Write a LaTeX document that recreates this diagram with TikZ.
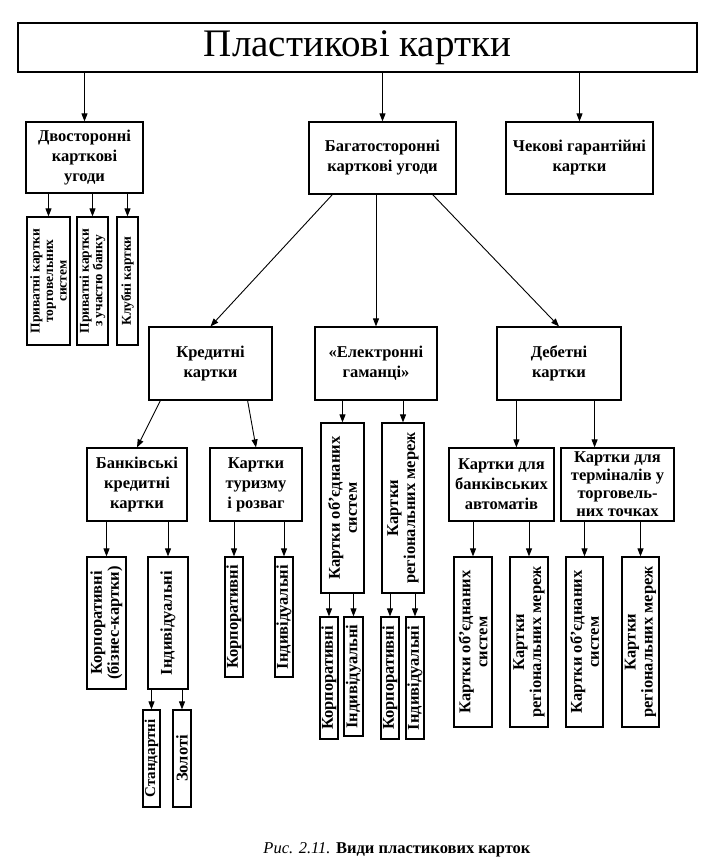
\documentclass[tikz,border=0pt]{standalone}
\usepackage{fontspec}
\setmainfont{Liberation Serif}
\usetikzlibrary{arrows.meta}
\newcommand\pkbig{\fontsize{39}{42}\selectfont}
\newcommand\pkmid{\fontsize{16.5}{20}\selectfont\bfseries}
\newcommand\pkvert{\fontsize{16.5}{17}\selectfont\bfseries}
\newcommand\pksmall{\fontsize{13.5}{13.5}\selectfont\bfseries}
\begin{document}
\begin{tikzpicture}[x=1pt,y=-1pt,
    box/.style={draw, line width=1.2pt, inner sep=0pt, align=center, font=\pkmid},
    vbox/.style={box, rotate=90, font=\pkvert},
    arr/.style={line width=0.9pt, -{Triangle[length=8pt,width=6pt]}}]
  \useasboundingbox (0,0) rectangle (721,861);
  \node[box, font=\pkbig, minimum width=679pt, minimum height=49pt] (pk0) at (357.5,47.5){Пластикові картки};
  \node[box, minimum width=117pt, minimum height=71pt] (pk1) at (84.5,157.5){Двосторонні\\карткові\\угоди};
  \node[box, minimum width=147pt, minimum height=72pt] (pk2) at (382.5,158){Багатосторонні\\карткові угоди};
  \node[box, minimum width=147pt, minimum height=72pt] (pk3) at (579.5,158){Чекові гарантійні\\картки};
  \draw[arr](pk0.south -| pk1) -- (pk1.north);
  \draw[arr](pk0.south -| pk2) -- (pk2.north);
  \draw[arr](pk0.south -| pk3) -- (pk3.north);
  \node[vbox, font=\pksmall, minimum width=128pt, minimum height=43pt] (pk4) at (48.5,281){Приватні картки\\торговельних\\систем};
  \node[vbox, font=\pksmall, minimum width=128pt, minimum height=31pt] (pk5) at (92.5,281){Приватні картки\\з участю банку};
  \node[vbox, font=\pksmall, minimum width=128pt, minimum height=21pt] (pk6) at (127.5,281){Клубні картки};
  \draw[arr](pk1.south -| pk4) -- (pk4.east);
  \draw[arr](pk1.south -| pk5) -- (pk5.east);
  \draw[arr](pk1.south -| pk6) -- (pk6.east);
  \node[box, minimum width=123pt, minimum height=73pt] (pk7) at (210.5,363.5){Кредитні\\картки};
  \node[box, minimum width=122pt, minimum height=73pt] (pk8) at (376,363.5){«Електронні\\гаманці»};
  \node[box, minimum width=124pt, minimum height=73pt] (pk9) at (559,363.5){Дебетні\\картки};
  \draw[arr]([xshift=24pt]pk2.south west) -- (pk7.north);
  \draw[arr](pk2.south -| pk8) -- (pk8.north);
  \draw[arr]([xshift=-24pt]pk2.south east) -- (pk9.north);
  % credit cards
  \node[box, minimum width=100pt, minimum height=73pt] (pk10) at (137,484.5){Банківські\\кредитні\\картки};
  \node[box, minimum width=92pt, minimum height=73pt] (pk11) at (256,484.5){Картки\\туризму\\і розваг};
  \draw[arr]([xshift=12pt]pk7.south west) -- (pk10.north);
  \draw[arr]([xshift=-25pt]pk7.south east) -- (pk11.north);
  \node[vbox, minimum width=132pt, minimum height=39pt] (pk24) at (106.5,623){Корпоративні\\(бізнес-картки)};
  \node[vbox, minimum width=132pt, minimum height=40pt] (pk25) at (168,623){Індивідуальні};
  \draw[arr](pk10.south -| pk24) -- (pk24.east);
  \draw[arr](pk10.south -| pk25) -- (pk25.east);
  \node[vbox, font=\fontsize{15}{16}\selectfont\bfseries, minimum width=97pt, minimum height=17pt] (pk26) at (151.5,758.5){Стандартні};
  \node[vbox, minimum width=97pt, minimum height=18pt] (pk27) at (182,758.5){Золоті};
  \draw[arr](pk25.west -| pk26) -- (pk26.east);
  \draw[arr](pk25.west -| pk27) -- (pk27.east);
  \node[vbox, minimum width=120pt, minimum height=18pt] (pk28) at (234,617){Корпоративні};
  \node[vbox, minimum width=120pt, minimum height=18pt] (pk29) at (284,617){Індивідуальні};
  \draw[arr](pk11.south -| pk28) -- (pk28.east);
  \draw[arr](pk11.south -| pk29) -- (pk29.east);
  % e-wallets
  \node[vbox, minimum width=170pt, minimum height=43pt] (pk12) at (342.5,508){Картки об'єднаних\\систем};
  \node[vbox, minimum width=170pt, minimum height=42pt] (pk13) at (403,508){Картки\\регіональних мереж};
  \draw[arr](pk8.south -| pk12) -- (pk12.east);
  \draw[arr](pk8.south -| pk13) -- (pk13.east);
  \node[vbox, minimum width=122pt, minimum height=18pt] (pk14) at (329,678){Корпоративні};
  \node[vbox, minimum width=119pt, minimum height=19pt] (pk15) at (353.5,676.5){Індивідуальні};
  \node[vbox, minimum width=122pt, minimum height=18pt] (pk16) at (390,678){Корпоративні};
  \node[vbox, minimum width=122pt, minimum height=18pt] (pk17) at (415,678){Індивідуальні};
  \draw[arr](pk12.west -| pk14) -- (pk14.east);
  \draw[arr](pk12.west -| pk15) -- (pk15.east);
  \draw[arr](pk13.west -| pk16) -- (pk16.east);
  \draw[arr](pk13.west -| pk17) -- (pk17.east);
  % debit cards
  \node[box, minimum width=105pt, minimum height=73pt] (pk18) at (501.5,484.5){Картки для\\банківських\\автоматів};
  \node[box, font=\fontsize{16.5}{18}\selectfont\bfseries, minimum width=113pt, minimum height=73pt] (pk19) at (617.5,484.5){Картки для\\терміналів у\\торговель-\\них точках};
  \draw[arr]([xshift=20pt]pk9.south west) -- ([xshift=20pt]pk9.south west |- pk18.north);
  \draw[arr]([xshift=-27pt]pk9.south east) -- ([xshift=-27pt]pk9.south east |- pk19.north);
  \node[vbox, minimum width=170pt, minimum height=38pt] (pk20) at (473,642){Картки об'єднаних\\систем};
  \node[vbox, minimum width=170pt, minimum height=38pt] (pk21) at (529,642){Картки\\регіональних мереж};
  \node[vbox, minimum width=170pt, minimum height=37pt] (pk22) at (584.5,642){Картки об'єднаних\\систем};
  \node[vbox, minimum width=170pt, minimum height=37pt] (pk23) at (640.5,642){Картки\\регіональних мереж};
  \draw[arr](pk18.south -| pk20) -- (pk20.east);
  \draw[arr](pk18.south -| pk21) -- (pk21.east);
  \draw[arr](pk19.south -| pk22) -- (pk22.east);
  \draw[arr](pk19.south -| pk23) -- (pk23.east);
  \node[font=\fontsize{16.5}{20}\selectfont] (pk30) at (397,850){\textit{Рис. 2.11.} \textbf{Види пластикових карток}};
\end{tikzpicture}
\end{document}
